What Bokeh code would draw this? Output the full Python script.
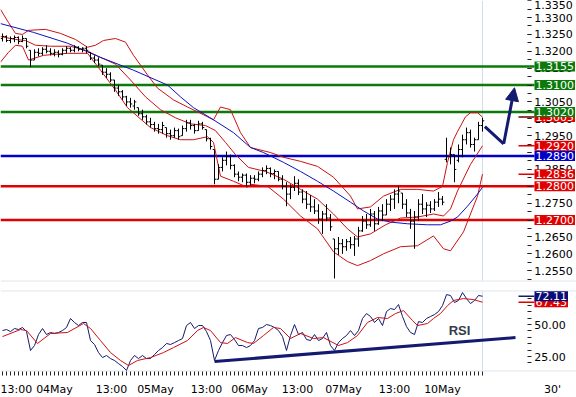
from bokeh.plotting import figure
from bokeh.models import (Range1d, SingleIntervalTicker, FixedTicker, NumeralTickFormatter,
                          Label, Span, Arrow, NormalHead)
from bokeh.layouts import column
from bokeh.embed import file_html
from bokeh.resources import INLINE

FONT = "DejaVu Sans"

# ---------------- data (hourly bars) ----------------
high = [1.3253,1.3247,1.3244,1.3247,1.3244,1.3247,1.3238,1.3203,1.3206,1.3209,
        1.3212,1.3218,1.3209,1.3206,1.3203,1.3209,1.3215,1.3212,1.3218,1.3215,
        1.3212,1.3215,1.3197,1.3188,1.3182,1.3159,1.3150,1.3138,1.3115,1.3100,
        1.3085,1.3068,1.3062,1.3056,1.3033,1.3027,1.3012,1.3003,1.2991,1.2985,
        1.2991,1.2974,1.2968,1.2974,1.2971,1.2980,1.2997,1.2997,1.2985,1.2994,
        1.2991,1.2968,1.2944,1.2909,1.2865,1.2886,1.2903,1.2894,1.2865,1.2844,
        1.2838,1.2838,1.2833,1.2833,1.2844,1.2856,1.2862,1.2856,1.2850,1.2844,
        1.2833,1.2812,1.2806,1.2830,1.2821,1.2791,1.2786,1.2774,1.2762,1.2747,
        1.2727,1.2747,1.2718,1.2644,1.2650,1.2644,1.2644,1.2650,1.2653,1.2680,
        1.2712,1.2718,1.2733,1.2727,1.2739,1.2747,1.2762,1.2774,1.2791,1.2800,
        1.2780,1.2762,1.2733,1.2727,1.2762,1.2777,1.2753,1.2756,1.2762,1.2783,
        1.2771,1.2944,1.2915,1.2894,1.2924,1.2953,1.2974,1.2968,1.2944,1.2991,
        1.3003]
low = [1.3229,1.3227,1.3224,1.3227,1.3221,1.3227,1.3209,1.3153,1.3174,1.3185,
       1.3188,1.3194,1.3188,1.3185,1.3182,1.3188,1.3194,1.3197,1.3197,1.3200,
       1.3197,1.3194,1.3174,1.3165,1.3156,1.3130,1.3121,1.3109,1.3080,1.3068,
       1.3056,1.3038,1.3033,1.3027,1.3009,1.2997,1.2983,1.2974,1.2962,1.2956,
       1.2956,1.2944,1.2938,1.2944,1.2938,1.2950,1.2962,1.2968,1.2956,1.2965,
       1.2968,1.2933,1.2909,1.2806,1.2821,1.2844,1.2862,1.2850,1.2827,1.2815,
       1.2812,1.2800,1.2803,1.2809,1.2815,1.2827,1.2836,1.2827,1.2821,1.2815,
       1.2791,1.2741,1.2762,1.2786,1.2774,1.2750,1.2733,1.2724,1.2718,1.2689,
       1.2659,1.2697,1.2668,1.2527,1.2597,1.2600,1.2609,1.2615,1.2594,1.2621,
       1.2665,1.2674,1.2680,1.2668,1.2686,1.2697,1.2715,1.2727,1.2733,1.2750,
       1.2733,1.2709,1.2674,1.2615,1.2697,1.2718,1.2709,1.2721,1.2727,1.2739,
       1.2744,1.2871,1.2865,1.2812,1.2871,1.2886,1.2924,1.2915,1.2903,1.2938,
       1.2962]
open_ = [1.3238,1.3244,1.3232,1.3238,1.3241,1.3229,1.3238,1.3203,1.3174,1.3197,
         1.3194,1.3206,1.3200,1.3194,1.3197,1.3191,1.3203,1.3209,1.3203,1.3212,
         1.3206,1.3209,1.3197,1.3180,1.3174,1.3159,1.3138,1.3132,1.3115,1.3091,
         1.3080,1.3065,1.3050,1.3038,1.3033,1.3015,1.3006,1.2991,1.2983,1.2971,
         1.2968,1.2974,1.2956,1.2950,1.2965,1.2950,1.2971,1.2988,1.2980,1.2965,
         1.2985,1.2968,1.2941,1.2909,1.2821,1.2856,1.2877,1.2888,1.2862,1.2836,
         1.2827,1.2833,1.2812,1.2824,1.2821,1.2836,1.2847,1.2853,1.2838,1.2844,
         1.2821,1.2800,1.2777,1.2797,1.2809,1.2783,1.2762,1.2747,1.2739,1.2727,
         1.2703,1.2718,1.2706,1.2644,1.2615,1.2630,1.2621,1.2636,1.2627,1.2644,
         1.2668,1.2697,1.2686,1.2718,1.2689,1.2727,1.2715,1.2747,1.2762,1.2777,
         1.2780,1.2747,1.2721,1.2697,1.2709,1.2747,1.2733,1.2744,1.2733,1.2753,
         1.2762,1.2880,1.2888,1.2894,1.2877,1.2909,1.2938,1.2959,1.2924,1.2938,
         1.2980]
close = [1.3244,1.3232,1.3238,1.3241,1.3229,1.3238,1.3215,1.3174,1.3197,1.3194,
         1.3206,1.3200,1.3194,1.3197,1.3191,1.3203,1.3209,1.3203,1.3212,1.3206,
         1.3209,1.3203,1.3180,1.3174,1.3162,1.3138,1.3132,1.3115,1.3091,1.3080,
         1.3065,1.3050,1.3044,1.3050,1.3015,1.3006,1.2991,1.2983,1.2971,1.2968,
         1.2980,1.2956,1.2950,1.2965,1.2947,1.2971,1.2988,1.2980,1.2965,1.2985,
         1.2974,1.2941,1.2918,1.2821,1.2856,1.2877,1.2888,1.2862,1.2836,1.2827,
         1.2833,1.2812,1.2824,1.2821,1.2836,1.2847,1.2853,1.2838,1.2844,1.2821,
         1.2800,1.2777,1.2797,1.2809,1.2783,1.2762,1.2747,1.2739,1.2727,1.2703,
         1.2718,1.2706,1.2680,1.2615,1.2630,1.2621,1.2636,1.2627,1.2644,1.2668,
         1.2697,1.2686,1.2718,1.2689,1.2727,1.2715,1.2747,1.2762,1.2777,1.2786,
         1.2747,1.2721,1.2697,1.2709,1.2747,1.2733,1.2744,1.2733,1.2753,1.2762,
         1.2753,1.2888,1.2894,1.2850,1.2909,1.2938,1.2959,1.2924,1.2938,1.2980,
         1.2994]

# Bollinger bands and moving average (read at their visible turning points)
bb_up_h = [-0.5,1.5,3.25,5,6.5,10.75,14.5,18.25,21.25,23.25,25.25,28.25,30.75,32.75,36.25,
           38.75,42.75,46.25,50.25,52.75,54.5,57,59.5,62,67,70.25,74.5,78.75,82.75,87,88.75,
           92,95.25,99.5,103.75,107.75,110,111.25,112.75,113.75,115.75,117,118.75,120]
bb_up_p = [1.3324,1.3285,1.3253,1.3250,1.3262,1.3265,1.3253,1.3235,1.3212,1.3218,1.3232,
           1.3238,1.3227,1.3188,1.3130,1.3091,1.3056,1.3035,1.3012,1.2997,1.3035,1.3027,
           1.2959,1.2915,1.2900,1.2886,1.2874,1.2859,1.2827,1.2771,1.2733,1.2739,1.2771,
           1.2791,1.2791,1.2786,1.2800,1.2871,1.2938,1.2962,1.3006,1.3018,1.3018,1.3005]
bb_mid_h = [-0.5,3.25,5.75,8.25,12,17,20.75,24.5,28.25,32,35.75,39.5,43.25,47,50.75,53.25,
            55.75,58.25,61.5,65.75,70.25,74.5,78.75,82.75,86.25,88.75,92,95.75,99.5,103.75,
            107.75,110.25,112,113.75,117,120]
bb_mid_p = [1.3244,1.3235,1.3232,1.3218,1.3215,1.3215,1.3203,1.3182,1.3162,1.3115,1.3065,
            1.3027,1.3003,1.2985,1.2980,1.2965,1.2930,1.2894,1.2856,1.2844,1.2821,1.2791,
            1.2762,1.2718,1.2674,1.2650,1.2659,1.2686,1.2706,1.2709,1.2718,1.2712,1.2733,
            1.2786,1.2865,1.2920]
bb_lo_h = [-0.5,1.5,3.25,5,6.5,10.25,16.25,21.25,24.5,28.25,31.25,37,41.25,44.5,47.75,51.25,
           52.75,54.5,57.75,61.25,62,66.25,70.25,74.5,78.75,82.75,86.25,88.75,92,95.25,99.5,
           103.75,107.75,110.25,112,115.25,118.75,120]
bb_lo_p = [1.3168,1.3197,1.3218,1.3215,1.3174,1.3188,1.3194,1.3194,1.3144,1.3085,1.3033,
           1.2974,1.2950,1.2938,1.2938,1.2947,1.2930,1.2830,1.2815,1.2797,1.2806,1.2800,
           1.2762,1.2712,1.2674,1.2606,1.2577,1.2565,1.2580,1.2600,1.2621,1.2624,1.2653,
           1.2615,1.2609,1.2665,1.2771,1.2836]
ma_h = [-0.5,7.75,16.25,24.5,32.75,41.25,44.5,47.75,52.75,57.75,62,65.25,70.25,74.5,78.75,
        82.75,87,90.25,93.75,97,101.25,106.25,109.5,112,113.75,116.25,118.75,120]
ma_p = [1.3282,1.3256,1.3224,1.3182,1.3144,1.3100,1.3065,1.3033,1.2997,1.2959,1.2915,1.2900,
        1.2871,1.2844,1.2815,1.2786,1.2753,1.2727,1.2703,1.2694,1.2689,1.2686,1.2686,1.2697,
        1.2709,1.2741,1.2777,1.2797]

# support / resistance levels
green_levels = [1.3155, 1.3100, 1.3020]
blue_levels = [1.2890]
red_levels = [1.2800, 1.2700]
# last values of the bands (small red markers)
mark_values = [1.3005, 1.2920, 1.2836]

# projected path (arrow)
proj_h = [120.6, 125.3, 128.0]
proj_p = [1.2977, 1.2926, 1.3092]

# RSI and its average
rsi = [45.3,46.1,44.5,46.9,46.1,47.7,44.5,29.7,33.6,42.2,
       46.9,42.2,43.8,43.0,43.8,45.3,47.7,54.7,51.6,49.2,
       51.6,51.6,37.5,34.4,28.1,24.2,25.8,23.4,21.9,19.5,
       17.2,14.1,21.9,25.8,23.4,25.8,23.4,23.4,26.6,29.7,
       32.0,35.2,34.4,35.9,37.5,39.1,49.2,51.6,46.9,49.2,
       49.2,44.5,37.5,21.9,29.7,35.9,41.4,42.2,38.3,33.6,
       33.6,32.0,33.6,37.5,46.9,47.7,50.0,49.2,47.7,45.3,
       40.6,29.7,41.4,50.0,42.2,43.8,38.3,37.5,42.2,37.5,
       39.1,43.8,33.6,29.7,35.9,39.1,41.4,45.3,41.4,45.3,
       54.7,58.6,56.3,51.6,54.7,49.2,60.2,62.5,61.7,65.6,
       56.3,48.4,43.8,42.2,52.3,51.6,54.7,56.3,57.8,60.2,
       64.8,73.4,72.7,67.2,68.8,75.0,70.3,66.4,68.8,72.7,
       72.11]
rsi_ma_h = [0,4.5,6,8.75,12,16.25,20.25,22,24.5,27,29.5,31.5,33.75,37,40.25,42.75,46.25,
            48.75,50.25,52,54.5,56.25,58.25,61.25,62.75,65.25,67.75,69.5,72,74.5,77.75,80.25,
            84,86.25,88.75,91.25,93.75,96.25,98.25,100.25,102.5,103.75,106.25,107.75,109.5,
            111.25,112.75,115.25,117.75,120]
rsi_ma = [40.6,46.1,45.3,35.2,43.0,43.8,50.8,46.9,37.5,28.1,21.9,18.0,21.9,24.2,28.1,32.0,
          37.5,45.3,47.7,45.3,35.9,35.2,39.8,35.9,35.2,41.4,47.7,46.9,39.1,43.0,39.1,39.8,
          33.6,35.9,41.4,51.6,55.5,54.7,58.6,60.9,53.1,49.2,50.8,54.7,58.6,64.8,68.8,70.3,
          69.5,67.43]
rsi_trend_h = [53, 128.25]
rsi_trend_v = [21.1, 39.8]

tick_hours = [3, 13, 27.25, 38.25, 51, 61.75, 73.75, 85.25, 98, 110, 137.5]
tick_labels = ["13:00", "04May", "13:00", "05May", "13:00", "06May", "13:00", "07May",
               "13:00", "10May", "30'"]

hours = list(range(len(close)))

# ---------------- styling ----------------
NAVY = "#141a70"
RED = "#e00000"
GREEN = "#0b7a0b"
BLUE = "#0000cc"
BAND = "#cc1111"
EDGE = "#e2e8ec"

AXIS_H = 131.2     # where the price / RSI scales sit
LX = 133.0         # left of the value boxes
x_rng = Range1d(-0.5, 143.5)


def style_y(ax, ticker, fmt):
    ax.fixed_location = AXIS_H
    ax.ticker = ticker
    ax.formatter = NumeralTickFormatter(format=fmt)
    ax.axis_line_color = None
    ax.major_tick_in = 0
    ax.major_tick_out = 4
    ax.minor_tick_in = 0
    ax.minor_tick_out = 4
    ax.major_tick_line_color = "#222222"
    ax.minor_tick_line_color = "#222222"
    ax.major_label_standoff = 3
    ax.major_label_text_font = FONT
    ax.major_label_text_font_size = "11px"
    ax.major_label_text_color = "#000000"


def box_label(fig, y, text, color):
    fig.add_layout(Label(x=LX, y=y, text=text, text_color="white", text_font=FONT,
                         text_font_size="11px", text_baseline="middle", text_align="left",
                         background_fill_color=color, padding=1))


p = figure(width=576, frame_height=281, x_range=x_rng, y_range=Range1d(1.2518, 1.33505),
           output_backend="svg", toolbar_location=None, y_axis_location="right",
           x_axis_location=None, min_border_left=0, min_border_right=0,
           min_border_top=0, min_border_bottom=5)
p.grid.visible = False
p.outline_line_color = None
p.background_fill_color = "white"
style_y(p.yaxis[0], SingleIntervalTicker(interval=0.005, num_minor_ticks=2), "0.0000")

p.add_layout(Span(location=hours[-1], dimension="height", line_color="#cfe0ec",
                  line_width=1, level="underlay"))
p.add_layout(Span(location=p.y_range.start, dimension="width", line_color=EDGE,
                  line_width=2, level="underlay"))

for levels, col in ((green_levels, GREEN), (blue_levels, BLUE), (red_levels, RED)):
    p.segment([x_rng.start] * len(levels), levels, [LX] * len(levels), levels,
              line_color=col, line_width=2.5)

p.line(bb_up_h, bb_up_p, line_color=BAND, line_width=1)
p.line(bb_mid_h, bb_mid_p, line_color=BAND, line_width=1)
p.line(bb_lo_h, bb_lo_p, line_color=BAND, line_width=1)
p.line(ma_h, ma_p, line_color="#1010c0", line_width=1)

p.segment(hours, low, hours, high, line_color="black", line_width=1)
p.segment([h - 0.45 for h in hours], open_, hours, open_, line_color="black", line_width=1)
p.segment(hours, close, [h + 0.45 for h in hours], close, line_color="black", line_width=1)

p.segment([129] * len(mark_values), mark_values, [LX] * len(mark_values), mark_values,
          line_color=["#660000", RED, RED], line_width=1.5)

p.line(proj_h[:2], proj_p[:2], line_color=NAVY, line_width=3)
p.add_layout(Arrow(end=NormalHead(size=13, fill_color=NAVY, line_color=NAVY),
                   x_start=proj_h[1], y_start=proj_p[1], x_end=proj_h[2], y_end=proj_p[2],
                   line_color=NAVY, line_width=3))

for v in mark_values:
    box_label(p, v, f"{v:.4f}", RED)
for v in green_levels:
    box_label(p, v, f"{v:.4f}", GREEN)
for v in blue_levels:
    box_label(p, v, f"{v:.4f}", BLUE)
for v in red_levels:
    box_label(p, v, f"{v:.4f}", RED)

# ---------------- RSI panel ----------------
r = figure(width=576, frame_height=81, x_range=x_rng, y_range=Range1d(13.3, 76.6),
           output_backend="svg", toolbar_location=None, y_axis_location="right",
           min_border_left=0, min_border_right=0, min_border_top=4, min_border_bottom=26)
r.grid.visible = False
r.outline_line_color = None
style_y(r.yaxis[0], FixedTicker(ticks=[25, 50], minor_ticks=[20, 30, 35, 40, 45, 55, 60, 65, 70]), "0.00")

xa = r.xaxis[0]
xa.ticker = FixedTicker(ticks=tick_hours, minor_ticks=hours)
xa.major_label_overrides = {h: t for h, t in zip(tick_hours, tick_labels)}
xa.axis_line_color = None
xa.major_tick_in = 0
xa.major_tick_out = 0
xa.minor_tick_in = 0
xa.minor_tick_out = 4
xa.minor_tick_line_color = "#222222"
xa.major_label_standoff = 7
xa.major_label_text_font = FONT
xa.major_label_text_font_size = "11px"
xa.major_label_text_color = "#000000"

r.add_layout(Span(location=hours[-1], dimension="height", line_color="#cfe0ec",
                  line_width=1, level="underlay"))
r.add_layout(Span(location=r.y_range.start, dimension="width", line_color=EDGE,
                  line_width=2, level="underlay"))
r.add_layout(Span(location=r.y_range.end, dimension="width", line_color=EDGE,
                  line_width=2, level="underlay"))
r.line(hours, rsi, line_color=NAVY, line_width=1)
r.line(rsi_ma_h, rsi_ma, line_color=BAND, line_width=1)
r.line(rsi_trend_h, rsi_trend_v, line_color=NAVY, line_width=3)
r.segment([129, 129], [rsi_ma[-1], rsi[-1]], [LX, LX], [rsi_ma[-1], rsi[-1]],
          line_color=[RED, NAVY], line_width=1.5)

r.add_layout(Label(x=114.25, y=45.3, text="RSI", text_font="Liberation Sans",
                   text_font_style="bold", text_font_size="13px", text_color="#333c48",
                   text_align="center", text_baseline="middle"))
box_label(r, rsi_ma[-1], f"{rsi_ma[-1]:.2f}", RED)
box_label(r, rsi[-1], f"{rsi[-1]:.2f}", "#0c0c78")

layout = column(p, r)
open("out.html", "w").write(file_html(layout, INLINE))
